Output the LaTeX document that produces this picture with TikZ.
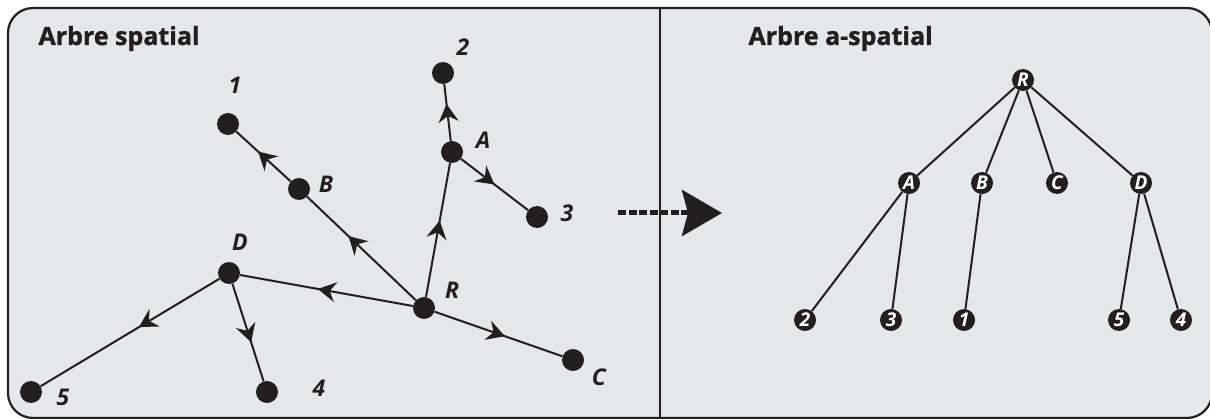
\documentclass[tikz,border=0pt]{standalone}
\usepackage{fontspec}
\setmainfont{Open Sans}[BoldFeatures={FakeBold=1.2}]
\usetikzlibrary{arrows.meta,decorations.markings}
\definecolor{panelgray}{RGB}{230,231,232}
\definecolor{inkblack}{RGB}{35,31,32}

\begin{document}
\begin{tikzpicture}[x=1pt,y=-1pt,
  dot/.style={circle,fill=inkblack,minimum size=22pt,inner sep=0pt},
  lbl/.style={font=\fontsize{23}{23}\selectfont\bfseries\itshape,text=inkblack},
  tnode/.style={circle,fill=inkblack,minimum size=22pt,inner sep=0pt,text=white,
    font=\fontsize{19}{19}\selectfont\bfseries\itshape},
  title/.style={font=\fontsize{25}{25}\selectfont\bfseries,text=inkblack,anchor=base west},
  flow/.style={postaction={decorate},decoration={markings,
    mark=at position #1 with {\arrow{Stealth[length=18pt,width=20pt,inset=6pt]}}}},
  flow/.default=0.5,
  link/.style={every edge/.style={draw=inkblack,line width=2pt}}]
  \useasboundingbox (0,0) rectangle (1210,419);
  % frame
  \draw[line width=2.2pt,draw=inkblack,fill=panelgray,rounded corners=25pt] (8,8) rectangle (1212,418);
  \draw[line width=1.2pt,inkblack] (660,8) -- (660,418);
  \node[title] (tl) at (35,45) {Arbre spatial};
  \node[title] (tr) at (745,45) {Arbre a-spatial};
  % spatial tree
  \node[dot] (R) at (424,308) {};
  \node[dot] (A) at (452,152) {};
  \node[dot] (B) at (299,189) {};
  \node[dot] (C) at (573,360) {};
  \node[dot] (D) at (229,273) {};
  \node[dot] (p1) at (228,124) {};
  \node[dot] (p2) at (443,73) {};
  \node[dot] (p3) at (537,217) {};
  \node[dot] (p4) at (267,392) {};
  \node[dot] (p5) at (31,392) {};
  \node[lbl] (lR) at (452,290) {R};
  \node[lbl] (lA) at (483,140) {A};
  \node[lbl] (lB) at (326,184) {B};
  \node[lbl] (lC) at (599,377) {C};
  \node[lbl] (lD) at (240,242) {D};
  \node[lbl] (l1) at (235,85) {1};
  \node[lbl] (l2) at (463,47) {2};
  \node[lbl] (l3) at (567,213) {3};
  \node[lbl] (l4) at (319,388) {4};
  \node[lbl] (l5) at (63,397) {5};
  \path[link]
  (R) edge[flow=0.57] (A)
  (A) edge[flow=0.65] (p2)
  (A) edge[flow=0.5] (p3)
  (R) edge[flow=0.62] (B)
  (B) edge[flow=0.6] (p1)
  (R) edge[flow=0.55] (D)
  (D) edge[flow=0.45] (p5)
  (D) edge[flow=0.6] (p4)
  (R) edge[flow=0.55] (C);
  % dashed arrow between panels
  \coordinate (dashL) at (618,213);
  \coordinate (dashR) at (722,213);
  \draw[inkblack,line width=5pt,dash pattern=on 8pt off 2.5pt,
    -{Stealth[length=40pt,width=46pt,inset=6pt]}] (dashL) -- (dashR);
  % a-spatial tree
  \node[tnode] (tR) at (1023,80) {R};
  \node[tnode] (tA) at (909,183) {A};
  \node[tnode] (tB) at (982,183) {B};
  \node[tnode] (tC) at (1057,183) {C};
  \node[tnode] (tD) at (1141,183) {D};
  \node[tnode] (t2) at (805,320) {2};
  \node[tnode] (t3) at (891,320) {3};
  \node[tnode] (t1) at (964,320) {1};
  \node[tnode] (t5) at (1119,320) {5};
  \node[tnode] (t4) at (1181,320) {4};
  \path[link]
  (tR) edge (tA)
  (tR) edge (tB)
  (tR) edge (tC)
  (tR) edge (tD)
  (tA) edge (t2)
  (tA) edge (t3)
  (tB) edge (t1)
  (tD) edge (t5)
  (tD) edge (t4);
\end{tikzpicture}
\end{document}
